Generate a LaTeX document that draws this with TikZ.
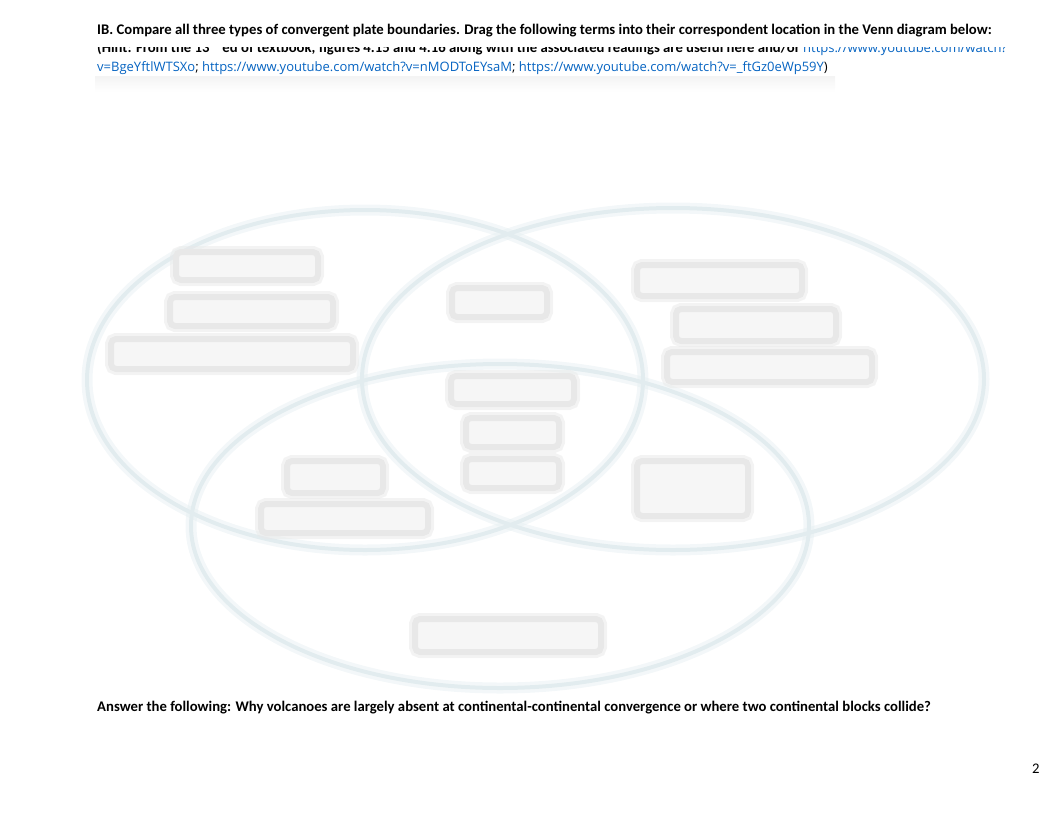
\documentclass[tikz,border=0pt]{standalone}
\usepackage{fontspec}
\setmainfont{Carlito}
\newfontfamily\linkfont{Open Sans}
\usepackage{tikz}
\usetikzlibrary{positioning}
\definecolor{ringcol}{RGB}{226,236,239}
\definecolor{boxedge}{RGB}{232,232,232}
\definecolor{boxfill}{RGB}{246,246,246}
\definecolor{linkblue}{RGB}{5,99,193}

\begin{document}
\begin{tikzpicture}[x=1pt, y=-1pt,
    anillo/.style={draw=ringcol, line width=4pt, preaction={draw=ringcol, draw opacity=0.4, line width=11pt}},
    caja/.style={draw=boxedge, line width=6pt, fill=boxfill, rounded corners=5pt, inner sep=0pt,
      preaction={draw=boxedge, draw opacity=0.5, line width=12pt}},
    texto/.style={anchor=base west, inner sep=0pt}]
  \useasboundingbox (0,0) rectangle (1062,822);

  % Textos
  \node[texto, font=\fontsize{14.7}{17}\selectfont\bfseries] (titulo) at (97,34)
    {IB. Compare all three types of convergent plate boundaries. Drag the following terms into their correspondent location in the Venn diagram below:};
  \begin{scope}
    \clip (0,47) rectangle (1062,58);
    \node[texto, font=\fontsize{14.7}{17}\selectfont\bfseries] (pista) at (97,52)
      {(Hint: From the 13\textsuperscript{th} ed of textbook, figures 4.15 and 4.16 along with the associated readings are useful here and/or {\linkfont\mdseries\fontsize{13}{15}\selectfont\color{linkblue} https://www.youtube.com/watch?}};
  \end{scope}
  \shade[top color=gray!9, bottom color=white] (95,76) rectangle (835,92);
  \node[texto, font=\linkfont\fontsize{13}{15}\selectfont, text=linkblue] (enlaces) at (97,71)
    {v=BgeYftlWTSXo{\color{black};} https://www.youtube.com/watch?v=nMODToEYsaM{\color{black};} https://www.youtube.com/watch?v=\_ftGz0eWp59Y{\color{black})}};
  \node[texto, font=\fontsize{14.7}{17}\selectfont\bfseries] (pregunta) at (97,711)
    {Answer the following: Why volcanoes are largely absent at continental-continental convergence or where two continental blocks collide?};
  \node[texto, font=\fontsize{14.7}{17}\selectfont] (pagina) at (1032,773) {2};

  % Elipses
  \draw[anillo] (365,380) ellipse [x radius=278pt, y radius=170pt];
  \draw[anillo] (673,379) ellipse [x radius=311pt, y radius=171pt];
  \draw[anillo] (500,526) ellipse [x radius=309pt, y radius=162pt];

  % Cajas
  \node[caja, minimum width=142pt, minimum height=28pt] (c1) at (247,266) {};
  \node[caja, minimum width=163pt, minimum height=29pt] (c2) at (251.5,311.5) {};
  \node[caja, minimum width=242pt, minimum height=30pt] (c3) at (232,354) {};
  \node[caja, minimum width=95pt, minimum height=29pt] (c4) at (499.5,302.5) {};
  \node[caja, minimum width=165pt, minimum height=31pt] (c5) at (719.5,280.5) {};
  \node[caja, minimum width=160pt, minimum height=32pt] (c6) at (756,325) {};
  \node[caja, minimum width=205pt, minimum height=30pt] (c7) at (769.5,367) {};
  \node[caja, minimum width=123pt, minimum height=28pt] (c8) at (512.5,390) {};
  \node[caja, minimum width=93pt, minimum height=29pt] (c9) at (512.5,432.5) {};
  \node[caja, minimum width=93pt, minimum height=29pt] (c10) at (512.5,473.5) {};
  \node[caja, minimum width=96pt, minimum height=32pt] (c11) at (335,477) {};
  \node[caja, minimum width=167pt, minimum height=29pt] (c12) at (344.5,518.5) {};
  \node[caja, minimum width=111pt, minimum height=55pt] (c13) at (692.5,488.5) {};
  \node[caja, minimum width=186pt, minimum height=33pt] (c14) at (508,635.5) {};
\end{tikzpicture}
\end{document}
